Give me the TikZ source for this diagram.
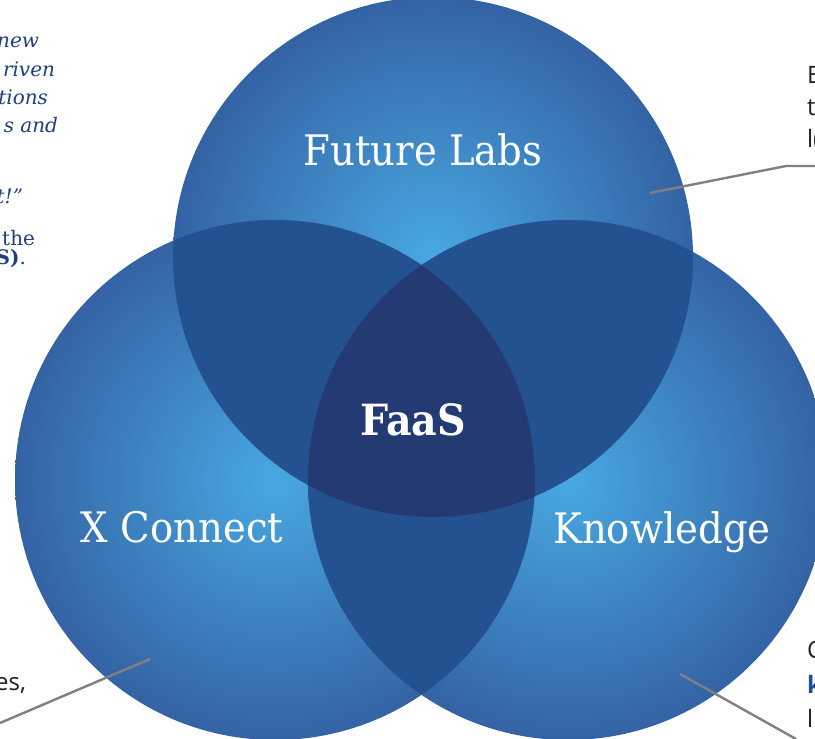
\documentclass[tikz,border=0pt]{standalone}
\usepackage{fontspec}
\setmainfont{DejaVu Serif}
\newfontfamily\labelfont[FakeStretch=0.92]{DejaVu Serif}
\newfontfamily\sidefont{Open Sans}
\usepackage{tikz}
\definecolor{vennlight}{HTML}{48A8E1}
\definecolor{vennedge}{HTML}{3463A4}
\definecolor{pairblue}{HTML}{24518F}
\definecolor{triblue}{HTML}{233A72}
\definecolor{quoteblue}{HTML}{1F3F7E}
\definecolor{keyblue}{HTML}{1D4E96}
\definecolor{leadergray}{HTML}{808080}
\definecolor{sideblack}{HTML}{231F20}
\pgfdeclareradialshading{vennshade}{\pgfpoint{0bp}{0bp}}{color(0bp)=(vennlight); color(25bp)=(vennedge); color(50bp)=(vennedge)}
\tikzset{
	every node/.style={inner sep=0pt,outer sep=0pt},
	circlelabel/.style={text=white,font=\labelfont\fontsize{42}{50}\selectfont,anchor=base},
	centrelabel/.style={circlelabel,font=\labelfont\bfseries\fontsize{43}{50}\selectfont},
	quotetext/.style={text=quoteblue,font=\fontsize{20}{26}\selectfont,anchor=base east},
	sidetext/.style={text=sideblack,font=\sidefont\fontsize{24}{30}\selectfont},
	leader/.style={draw=leadergray,line width=2.4pt}
}

\begin{document}
\begin{tikzpicture}[x=1pt,y=-1pt]
		\clip (0,0) rectangle (815,739);
		\fill[white] (0,0) rectangle (815,739);
		
		% circle centres
		\coordinate (ctop) at (433,257);
		\coordinate (cleft) at (275,480);
		\coordinate (cright) at (568,480);
		
		\path[shading=vennshade] (ctop) circle (260pt);
		\path[shading=vennshade] (cleft) circle (260pt);
		\path[shading=vennshade] (cright) circle (260pt);
		
		% overlaps
		\begin{scope}
			\clip (ctop) circle (260pt);
			\fill[pairblue] (cleft) circle (260pt) (cright) circle (260pt);
		\end{scope}
		\begin{scope}
			\clip (cleft) circle (260pt);
			\fill[pairblue] (cright) circle (260pt);
		\end{scope}
		\begin{scope}
			\clip (ctop) circle (260pt);
			\clip (cleft) circle (260pt);
			\fill[triblue] (cright) circle (260pt);
		\end{scope}
		
		\node[circlelabel] (future) at (423,165) {Future Labs};
		\node[circlelabel] (xconnect) at (182,542) {X Connect};
		\node[circlelabel] (knowledge) at (662,543) {Knowledge};
		\node[centrelabel] (faas) at (413,435) {FaaS};
		
		% leader lines
		\coordinate (labspin) at (650,193);
		\coordinate (labsbend) at (786,166);
		\coordinate (labsend) at (815,166);
		\coordinate (xconpin) at (150,659);
		\coordinate (xconend) at (0,723);
		\coordinate (knowpin) at (680,674);
		\coordinate (knowend) at (796,739);
		\draw[leader] (labspin) -- (labsbend) -- (labsend);
		\draw[leader] (xconpin) -- (xconend);
		\draw[leader] (knowpin) -- (knowend);
		
		% text cut off at the left edge
		\node[quotetext] (qa) at (39,47) {\itshape new};
		\node[quotetext] (qb) at (55,76) {\itshape riven};
		\node[quotetext] (qc) at (48,104) {\itshape tions};
		\node[quotetext] (qd) at (58,132) {\itshape s and};
		\node[quotetext] (qe) at (23,203) {\itshape t!”};
		\node[quotetext] (qf) at (35,245) {the};
		\node[quotetext] (qg) at (26,264) {{\bfseries S)}.};
		\node[sidetext,anchor=base east] (sa) at (26,690) {es,};
		
		% text cut off at the right edge
		\node[sidetext,anchor=base west] (ra) at (807,83) {E};
		\node[sidetext,anchor=base west] (rb) at (807,115) {t};
		\node[sidetext,anchor=base west] (rc) at (807,147) {l(};
		\node[sidetext,anchor=base west] (rd) at (807,658) {C};
		\node[sidetext,anchor=base west,text=keyblue,font=\sidefont\bfseries\fontsize{24}{30}\selectfont] (re) at (807,693) {k};
		\node[sidetext,anchor=base west] (rf) at (807,727) {l};
\end{tikzpicture}
\end{document}
